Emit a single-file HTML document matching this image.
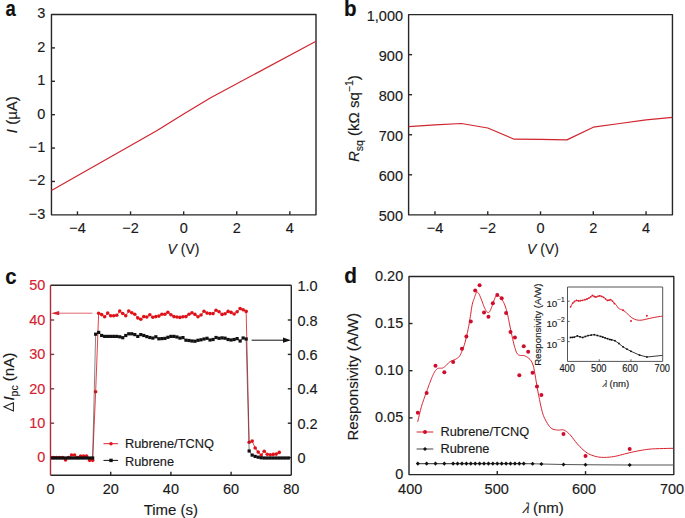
<!DOCTYPE html>
<html><head><meta charset="utf-8"><style>
html,body{margin:0;padding:0;background:#fff;}
body{width:685px;height:518px;overflow:hidden;}
svg{display:block;font-family:"Liberation Sans", sans-serif;}
text{stroke-width:0.15px;}
</style></head><body>
<svg width="685" height="518" viewBox="0 0 685 518">
<rect width="685" height="518" fill="#fff"/>
<rect x="51.46" y="14.50" width="264.54" height="200.35" fill="none" stroke="#262626" stroke-width="1.4" stroke-linejoin="round"/>
<line x1="51.46" y1="181.46" x2="54.96" y2="181.46" stroke="#262626" stroke-width="1.4" />
<line x1="51.46" y1="148.07" x2="54.96" y2="148.07" stroke="#262626" stroke-width="1.4" />
<line x1="51.46" y1="114.67" x2="54.96" y2="114.67" stroke="#262626" stroke-width="1.4" />
<line x1="51.46" y1="81.28" x2="54.96" y2="81.28" stroke="#262626" stroke-width="1.4" />
<line x1="51.46" y1="47.89" x2="54.96" y2="47.89" stroke="#262626" stroke-width="1.4" />
<line x1="77.46" y1="214.85" x2="77.46" y2="211.35" stroke="#262626" stroke-width="1.4" />
<line x1="130.56" y1="214.85" x2="130.56" y2="211.35" stroke="#262626" stroke-width="1.4" />
<line x1="183.66" y1="214.85" x2="183.66" y2="211.35" stroke="#262626" stroke-width="1.4" />
<line x1="236.76" y1="214.85" x2="236.76" y2="211.35" stroke="#262626" stroke-width="1.4" />
<line x1="289.86" y1="214.85" x2="289.86" y2="211.35" stroke="#262626" stroke-width="1.4" />
<text transform="translate(45.30,18.35) scale(1,1.03)" font-size="14.5" text-anchor="end" fill="#1a1a1a" stroke="#1a1a1a">3</text>
<text transform="translate(45.30,51.74) scale(1,1.03)" font-size="14.5" text-anchor="end" fill="#1a1a1a" stroke="#1a1a1a">2</text>
<text transform="translate(45.30,85.13) scale(1,1.03)" font-size="14.5" text-anchor="end" fill="#1a1a1a" stroke="#1a1a1a">1</text>
<text transform="translate(45.30,118.52) scale(1,1.03)" font-size="14.5" text-anchor="end" fill="#1a1a1a" stroke="#1a1a1a">0</text>
<text transform="translate(45.30,151.92) scale(1,1.03)" font-size="14.5" text-anchor="end" fill="#1a1a1a" stroke="#1a1a1a">−1</text>
<text transform="translate(45.30,185.31) scale(1,1.03)" font-size="14.5" text-anchor="end" fill="#1a1a1a" stroke="#1a1a1a">−2</text>
<text transform="translate(45.30,218.70) scale(1,1.03)" font-size="14.5" text-anchor="end" fill="#1a1a1a" stroke="#1a1a1a">−3</text>
<text transform="translate(77.46,232.60) scale(1,1.03)" font-size="14.5" text-anchor="middle" fill="#1a1a1a" stroke="#1a1a1a">−4</text>
<text transform="translate(130.56,232.60) scale(1,1.03)" font-size="14.5" text-anchor="middle" fill="#1a1a1a" stroke="#1a1a1a">−2</text>
<text transform="translate(183.66,232.60) scale(1,1.03)" font-size="14.5" text-anchor="middle" fill="#1a1a1a" stroke="#1a1a1a">0</text>
<text transform="translate(236.76,232.60) scale(1,1.03)" font-size="14.5" text-anchor="middle" fill="#1a1a1a" stroke="#1a1a1a">2</text>
<text transform="translate(289.86,232.60) scale(1,1.03)" font-size="14.5" text-anchor="middle" fill="#1a1a1a" stroke="#1a1a1a">4</text>
<text transform="translate(5.5,15.9) scale(0.88,1.08)" font-size="21" font-weight="bold" fill="#111" stroke="#111">a</text>
<text transform="translate(183.5,253.8) scale(0.93,1.0)" font-size="15" text-anchor="middle" fill="#1a1a1a" stroke="#1a1a1a"><tspan font-style="italic">V</tspan> (V)</text>
<text transform="translate(17.2,114.67) rotate(-90)" font-size="15" text-anchor="middle" fill="#1a1a1a" stroke="#1a1a1a"><tspan font-style="italic">I</tspan> (µA)</text>
<polyline points="51.46,190.50 157.11,130.50 183.66,114.00 210.21,98.00 316.00,41.20" fill="none" stroke="#d0252f" stroke-width="1.2" stroke-linejoin="round" />
<rect x="408.60" y="14.60" width="263.85" height="200.25" fill="none" stroke="#262626" stroke-width="1.4" stroke-linejoin="round"/>
<line x1="408.60" y1="174.80" x2="412.10" y2="174.80" stroke="#262626" stroke-width="1.4" />
<line x1="408.60" y1="134.75" x2="412.10" y2="134.75" stroke="#262626" stroke-width="1.4" />
<line x1="408.60" y1="94.70" x2="412.10" y2="94.70" stroke="#262626" stroke-width="1.4" />
<line x1="408.60" y1="54.65" x2="412.10" y2="54.65" stroke="#262626" stroke-width="1.4" />
<line x1="434.99" y1="214.85" x2="434.99" y2="211.35" stroke="#262626" stroke-width="1.4" />
<line x1="487.75" y1="214.85" x2="487.75" y2="211.35" stroke="#262626" stroke-width="1.4" />
<line x1="540.53" y1="214.85" x2="540.53" y2="211.35" stroke="#262626" stroke-width="1.4" />
<line x1="593.30" y1="214.85" x2="593.30" y2="211.35" stroke="#262626" stroke-width="1.4" />
<line x1="646.07" y1="214.85" x2="646.07" y2="211.35" stroke="#262626" stroke-width="1.4" />
<text transform="translate(403.00,20.50) scale(1,1.03)" font-size="14.5" text-anchor="end" fill="#1a1a1a" stroke="#1a1a1a">1,000</text>
<text transform="translate(403.00,60.55) scale(1,1.03)" font-size="14.5" text-anchor="end" fill="#1a1a1a" stroke="#1a1a1a">900</text>
<text transform="translate(403.00,100.60) scale(1,1.03)" font-size="14.5" text-anchor="end" fill="#1a1a1a" stroke="#1a1a1a">800</text>
<text transform="translate(403.00,140.65) scale(1,1.03)" font-size="14.5" text-anchor="end" fill="#1a1a1a" stroke="#1a1a1a">700</text>
<text transform="translate(403.00,180.70) scale(1,1.03)" font-size="14.5" text-anchor="end" fill="#1a1a1a" stroke="#1a1a1a">600</text>
<text transform="translate(403.00,220.75) scale(1,1.03)" font-size="14.5" text-anchor="end" fill="#1a1a1a" stroke="#1a1a1a">500</text>
<text transform="translate(434.99,232.60) scale(1,1.03)" font-size="14.5" text-anchor="middle" fill="#1a1a1a" stroke="#1a1a1a">−4</text>
<text transform="translate(487.75,232.60) scale(1,1.03)" font-size="14.5" text-anchor="middle" fill="#1a1a1a" stroke="#1a1a1a">−2</text>
<text transform="translate(540.53,232.60) scale(1,1.03)" font-size="14.5" text-anchor="middle" fill="#1a1a1a" stroke="#1a1a1a">0</text>
<text transform="translate(593.30,232.60) scale(1,1.03)" font-size="14.5" text-anchor="middle" fill="#1a1a1a" stroke="#1a1a1a">2</text>
<text transform="translate(646.07,232.60) scale(1,1.03)" font-size="14.5" text-anchor="middle" fill="#1a1a1a" stroke="#1a1a1a">4</text>
<text transform="translate(343.9,15.7) scale(0.98,1.05)" font-size="21" font-weight="bold" fill="#111" stroke="#111">b</text>
<text transform="translate(543.0,253.8) scale(0.93,1.0)" font-size="15" text-anchor="middle" fill="#1a1a1a" stroke="#1a1a1a"><tspan font-style="italic">V</tspan> (V)</text>
<text transform="translate(359,118.60) rotate(-90)" font-size="15" text-anchor="middle" fill="#1a1a1a" stroke="#1a1a1a"><tspan font-style="italic">R</tspan><tspan font-size="10.5" dy="3.5">sq</tspan><tspan dy="-3.5"> (kΩ sq</tspan><tspan font-size="10.5" dy="-6">−1</tspan><tspan dy="6">)</tspan></text>
<polyline points="408.60,126.60 434.99,124.90 461.37,123.50 487.75,128.00 514.14,139.20 540.53,139.30 566.91,139.90 593.30,127.20 619.68,123.50 646.07,119.80 672.45,117.40" fill="none" stroke="#d0252f" stroke-width="1.2" stroke-linejoin="round" />
<line x1="50.50" y1="285.30" x2="291.30" y2="285.30" stroke="#262626" stroke-width="1.4" />
<line x1="291.30" y1="285.30" x2="291.30" y2="475.20" stroke="#262626" stroke-width="1.4" />
<line x1="50.50" y1="475.20" x2="291.30" y2="475.20" stroke="#262626" stroke-width="1.4" />
<line x1="50.50" y1="285.30" x2="50.50" y2="475.20" stroke="#ad2a39" stroke-width="1.4" />
<line x1="50.50" y1="457.60" x2="54.10" y2="457.60" stroke="#7a3a44" stroke-width="1.4" />
<line x1="50.50" y1="423.20" x2="54.10" y2="423.20" stroke="#7a3a44" stroke-width="1.4" />
<line x1="50.50" y1="388.80" x2="54.10" y2="388.80" stroke="#7a3a44" stroke-width="1.4" />
<line x1="50.50" y1="354.40" x2="54.10" y2="354.40" stroke="#7a3a44" stroke-width="1.4" />
<line x1="50.50" y1="320.00" x2="54.10" y2="320.00" stroke="#7a3a44" stroke-width="1.4" />
<line x1="291.30" y1="457.60" x2="287.80" y2="457.60" stroke="#262626" stroke-width="1.4" />
<line x1="291.30" y1="423.20" x2="287.80" y2="423.20" stroke="#262626" stroke-width="1.4" />
<line x1="291.30" y1="388.80" x2="287.80" y2="388.80" stroke="#262626" stroke-width="1.4" />
<line x1="291.30" y1="354.40" x2="287.80" y2="354.40" stroke="#262626" stroke-width="1.4" />
<line x1="291.30" y1="320.00" x2="287.80" y2="320.00" stroke="#262626" stroke-width="1.4" />
<line x1="110.70" y1="475.20" x2="110.70" y2="471.70" stroke="#262626" stroke-width="1.4" />
<line x1="170.90" y1="475.20" x2="170.90" y2="471.70" stroke="#262626" stroke-width="1.4" />
<line x1="231.10" y1="475.20" x2="231.10" y2="471.70" stroke="#262626" stroke-width="1.4" />
<text transform="translate(45.30,290.35) scale(1,1.03)" font-size="14.5" text-anchor="end" fill="#d42232" stroke="#d42232">50</text>
<text transform="translate(45.30,324.75) scale(1,1.03)" font-size="14.5" text-anchor="end" fill="#d42232" stroke="#d42232">40</text>
<text transform="translate(45.30,359.15) scale(1,1.03)" font-size="14.5" text-anchor="end" fill="#d42232" stroke="#d42232">30</text>
<text transform="translate(45.30,393.55) scale(1,1.03)" font-size="14.5" text-anchor="end" fill="#d42232" stroke="#d42232">20</text>
<text transform="translate(45.30,427.95) scale(1,1.03)" font-size="14.5" text-anchor="end" fill="#d42232" stroke="#d42232">10</text>
<text transform="translate(45.30,462.35) scale(1,1.03)" font-size="14.5" text-anchor="end" fill="#d42232" stroke="#d42232">0</text>
<text transform="translate(297.50,291.20) scale(1,1.03)" font-size="14.5" text-anchor="start" fill="#1a1a1a" stroke="#1a1a1a">1.0</text>
<text transform="translate(297.50,325.60) scale(1,1.03)" font-size="14.5" text-anchor="start" fill="#1a1a1a" stroke="#1a1a1a">0.8</text>
<text transform="translate(297.50,360.00) scale(1,1.03)" font-size="14.5" text-anchor="start" fill="#1a1a1a" stroke="#1a1a1a">0.6</text>
<text transform="translate(297.50,394.40) scale(1,1.03)" font-size="14.5" text-anchor="start" fill="#1a1a1a" stroke="#1a1a1a">0.4</text>
<text transform="translate(297.50,428.80) scale(1,1.03)" font-size="14.5" text-anchor="start" fill="#1a1a1a" stroke="#1a1a1a">0.2</text>
<text transform="translate(297.50,463.20) scale(1,1.03)" font-size="14.5" text-anchor="start" fill="#1a1a1a" stroke="#1a1a1a">0</text>
<text transform="translate(50.50,494.00) scale(1,1.03)" font-size="14.5" text-anchor="middle" fill="#1a1a1a" stroke="#1a1a1a">0</text>
<text transform="translate(110.70,494.00) scale(1,1.03)" font-size="14.5" text-anchor="middle" fill="#1a1a1a" stroke="#1a1a1a">20</text>
<text transform="translate(170.90,494.00) scale(1,1.03)" font-size="14.5" text-anchor="middle" fill="#1a1a1a" stroke="#1a1a1a">40</text>
<text transform="translate(231.10,494.00) scale(1,1.03)" font-size="14.5" text-anchor="middle" fill="#1a1a1a" stroke="#1a1a1a">60</text>
<text transform="translate(291.30,494.00) scale(1,1.03)" font-size="14.5" text-anchor="middle" fill="#1a1a1a" stroke="#1a1a1a">80</text>
<text transform="translate(5.2,283.6) scale(0.97,1.03)" font-size="21" font-weight="bold" fill="#111" stroke="#111">c</text>
<text x="170.90" y="514.50" font-size="15" text-anchor="middle" fill="#1a1a1a" stroke="#1a1a1a" >Time (s)</text>
<path d="M13.4,402.7 L4.0,406.85 L13.4,411.0 Z" fill="none" stroke="#1a1a1a" stroke-width="1.05" stroke-linejoin="miter"/>
<text transform="translate(14,400.6) rotate(-90)" font-size="15" text-anchor="start" fill="#1a1a1a" stroke="#1a1a1a"><tspan font-style="italic">I</tspan><tspan font-size="10.5" dy="3.5">pc</tspan><tspan dy="-3.5"> (nA)</tspan></text>
<defs><clipPath id="cc"><rect x="51.1" y="285" width="239.6" height="190"/></clipPath></defs><g clip-path="url(#cc)">
<polyline points="50.50,457.60 53.51,457.60 56.52,457.60 59.53,457.60 62.54,457.60 65.55,460.01 68.56,457.60 71.57,455.02 74.58,455.02 77.59,457.60 80.60,455.98 83.61,455.98 86.62,455.98 89.63,460.35 92.64,460.35 95.65,391.80 98.66,313.30 101.67,314.60 104.68,316.80 107.69,313.10 110.70,315.70 113.71,315.70 116.72,315.30 119.73,311.10 122.74,313.50 125.75,315.70 128.76,311.10 131.77,312.80 134.78,314.20 137.79,317.90 140.80,319.20 143.81,316.60 146.82,317.00 149.83,314.80 152.84,317.20 155.85,316.60 158.86,316.10 161.87,314.20 164.88,314.20 167.89,312.20 170.90,314.80 173.91,316.60 176.92,317.00 179.93,317.40 182.94,316.80 185.95,316.60 188.96,314.20 191.97,312.80 194.98,314.40 197.99,316.80 201.00,315.00 204.01,311.20 207.02,313.10 210.03,313.60 213.04,313.60 216.05,310.30 219.06,311.80 222.07,314.40 225.08,313.80 228.09,311.40 231.10,312.40 234.11,314.00 237.12,311.80 240.13,308.60 243.14,309.80 246.15,311.40 249.16,442.20 252.17,441.10 255.18,448.00 258.19,452.10 261.20,455.10 264.21,451.30 267.22,454.20 270.23,454.80 273.24,454.40 276.25,454.10 279.26,452.40" fill="none" stroke="#df121a" stroke-width="0.8" stroke-linejoin="round" />
<circle cx="50.50" cy="457.60" r="1.8" fill="#df121a"/>
<circle cx="53.51" cy="457.60" r="1.8" fill="#df121a"/>
<circle cx="56.52" cy="457.60" r="1.8" fill="#df121a"/>
<circle cx="59.53" cy="457.60" r="1.8" fill="#df121a"/>
<circle cx="62.54" cy="457.60" r="1.8" fill="#df121a"/>
<circle cx="65.55" cy="460.01" r="1.8" fill="#df121a"/>
<circle cx="68.56" cy="457.60" r="1.8" fill="#df121a"/>
<circle cx="71.57" cy="455.02" r="1.8" fill="#df121a"/>
<circle cx="74.58" cy="455.02" r="1.8" fill="#df121a"/>
<circle cx="77.59" cy="457.60" r="1.8" fill="#df121a"/>
<circle cx="80.60" cy="455.98" r="1.8" fill="#df121a"/>
<circle cx="83.61" cy="455.98" r="1.8" fill="#df121a"/>
<circle cx="86.62" cy="455.98" r="1.8" fill="#df121a"/>
<circle cx="89.63" cy="460.35" r="1.8" fill="#df121a"/>
<circle cx="92.64" cy="460.35" r="1.8" fill="#df121a"/>
<circle cx="95.65" cy="391.80" r="1.8" fill="#df121a"/>
<circle cx="98.66" cy="313.30" r="1.8" fill="#df121a"/>
<circle cx="101.67" cy="314.60" r="1.8" fill="#df121a"/>
<circle cx="104.68" cy="316.80" r="1.8" fill="#df121a"/>
<circle cx="107.69" cy="313.10" r="1.8" fill="#df121a"/>
<circle cx="110.70" cy="315.70" r="1.8" fill="#df121a"/>
<circle cx="113.71" cy="315.70" r="1.8" fill="#df121a"/>
<circle cx="116.72" cy="315.30" r="1.8" fill="#df121a"/>
<circle cx="119.73" cy="311.10" r="1.8" fill="#df121a"/>
<circle cx="122.74" cy="313.50" r="1.8" fill="#df121a"/>
<circle cx="125.75" cy="315.70" r="1.8" fill="#df121a"/>
<circle cx="128.76" cy="311.10" r="1.8" fill="#df121a"/>
<circle cx="131.77" cy="312.80" r="1.8" fill="#df121a"/>
<circle cx="134.78" cy="314.20" r="1.8" fill="#df121a"/>
<circle cx="137.79" cy="317.90" r="1.8" fill="#df121a"/>
<circle cx="140.80" cy="319.20" r="1.8" fill="#df121a"/>
<circle cx="143.81" cy="316.60" r="1.8" fill="#df121a"/>
<circle cx="146.82" cy="317.00" r="1.8" fill="#df121a"/>
<circle cx="149.83" cy="314.80" r="1.8" fill="#df121a"/>
<circle cx="152.84" cy="317.20" r="1.8" fill="#df121a"/>
<circle cx="155.85" cy="316.60" r="1.8" fill="#df121a"/>
<circle cx="158.86" cy="316.10" r="1.8" fill="#df121a"/>
<circle cx="161.87" cy="314.20" r="1.8" fill="#df121a"/>
<circle cx="164.88" cy="314.20" r="1.8" fill="#df121a"/>
<circle cx="167.89" cy="312.20" r="1.8" fill="#df121a"/>
<circle cx="170.90" cy="314.80" r="1.8" fill="#df121a"/>
<circle cx="173.91" cy="316.60" r="1.8" fill="#df121a"/>
<circle cx="176.92" cy="317.00" r="1.8" fill="#df121a"/>
<circle cx="179.93" cy="317.40" r="1.8" fill="#df121a"/>
<circle cx="182.94" cy="316.80" r="1.8" fill="#df121a"/>
<circle cx="185.95" cy="316.60" r="1.8" fill="#df121a"/>
<circle cx="188.96" cy="314.20" r="1.8" fill="#df121a"/>
<circle cx="191.97" cy="312.80" r="1.8" fill="#df121a"/>
<circle cx="194.98" cy="314.40" r="1.8" fill="#df121a"/>
<circle cx="197.99" cy="316.80" r="1.8" fill="#df121a"/>
<circle cx="201.00" cy="315.00" r="1.8" fill="#df121a"/>
<circle cx="204.01" cy="311.20" r="1.8" fill="#df121a"/>
<circle cx="207.02" cy="313.10" r="1.8" fill="#df121a"/>
<circle cx="210.03" cy="313.60" r="1.8" fill="#df121a"/>
<circle cx="213.04" cy="313.60" r="1.8" fill="#df121a"/>
<circle cx="216.05" cy="310.30" r="1.8" fill="#df121a"/>
<circle cx="219.06" cy="311.80" r="1.8" fill="#df121a"/>
<circle cx="222.07" cy="314.40" r="1.8" fill="#df121a"/>
<circle cx="225.08" cy="313.80" r="1.8" fill="#df121a"/>
<circle cx="228.09" cy="311.40" r="1.8" fill="#df121a"/>
<circle cx="231.10" cy="312.40" r="1.8" fill="#df121a"/>
<circle cx="234.11" cy="314.00" r="1.8" fill="#df121a"/>
<circle cx="237.12" cy="311.80" r="1.8" fill="#df121a"/>
<circle cx="240.13" cy="308.60" r="1.8" fill="#df121a"/>
<circle cx="243.14" cy="309.80" r="1.8" fill="#df121a"/>
<circle cx="246.15" cy="311.40" r="1.8" fill="#df121a"/>
<circle cx="249.16" cy="442.20" r="1.8" fill="#df121a"/>
<circle cx="252.17" cy="441.10" r="1.8" fill="#df121a"/>
<circle cx="255.18" cy="448.00" r="1.8" fill="#df121a"/>
<circle cx="258.19" cy="452.10" r="1.8" fill="#df121a"/>
<circle cx="261.20" cy="455.10" r="1.8" fill="#df121a"/>
<circle cx="264.21" cy="451.30" r="1.8" fill="#df121a"/>
<circle cx="267.22" cy="454.20" r="1.8" fill="#df121a"/>
<circle cx="270.23" cy="454.80" r="1.8" fill="#df121a"/>
<circle cx="273.24" cy="454.40" r="1.8" fill="#df121a"/>
<circle cx="276.25" cy="454.10" r="1.8" fill="#df121a"/>
<circle cx="279.26" cy="452.40" r="1.8" fill="#df121a"/>
<polyline points="50.50,458.00 53.51,458.00 56.52,458.00 59.53,458.00 62.54,458.00 65.55,458.00 68.56,458.00 71.57,458.00 74.58,458.00 77.59,458.00 80.60,458.00 83.61,458.00 86.62,458.00 89.63,458.00 92.64,458.00 95.65,334.20 98.66,332.40 101.67,335.50 104.68,336.40 107.69,336.40 110.70,336.40 113.71,336.40 116.72,336.40 119.73,336.80 122.74,337.70 125.75,335.50 128.76,333.80 131.77,333.80 134.78,334.60 137.79,336.40 140.80,334.60 143.81,335.50 146.82,336.60 149.83,337.50 152.84,338.10 155.85,336.80 158.86,338.80 161.87,338.60 164.88,338.40 167.89,337.30 170.90,336.40 173.91,336.40 176.92,337.00 179.93,338.10 182.94,337.60 185.95,340.20 188.96,340.50 191.97,341.00 194.98,341.20 197.99,340.30 201.00,339.80 204.01,339.00 207.02,338.30 210.03,340.00 213.04,339.50 216.05,337.50 219.06,338.30 222.07,337.90 225.08,338.20 228.09,339.50 231.10,340.00 234.11,339.50 237.12,338.60 240.13,341.00 243.14,338.00 246.15,339.00 249.16,451.00 252.17,455.10 255.18,456.40 258.19,457.20 261.20,457.80 264.21,458.00 267.22,458.00 270.23,458.00 273.24,458.00 276.25,458.00 279.26,458.00 282.27,458.00 285.28,458.00 288.29,458.00" fill="none" stroke="#333" stroke-width="0.6" stroke-linejoin="round" />
<rect x="48.90" y="456.40" width="3.2" height="3.2" fill="#111"/>
<rect x="51.91" y="456.40" width="3.2" height="3.2" fill="#111"/>
<rect x="54.92" y="456.40" width="3.2" height="3.2" fill="#111"/>
<rect x="57.93" y="456.40" width="3.2" height="3.2" fill="#111"/>
<rect x="60.94" y="456.40" width="3.2" height="3.2" fill="#111"/>
<rect x="63.95" y="456.40" width="3.2" height="3.2" fill="#111"/>
<rect x="66.96" y="456.40" width="3.2" height="3.2" fill="#111"/>
<rect x="69.97" y="456.40" width="3.2" height="3.2" fill="#111"/>
<rect x="72.98" y="456.40" width="3.2" height="3.2" fill="#111"/>
<rect x="75.99" y="456.40" width="3.2" height="3.2" fill="#111"/>
<rect x="79.00" y="456.40" width="3.2" height="3.2" fill="#111"/>
<rect x="82.01" y="456.40" width="3.2" height="3.2" fill="#111"/>
<rect x="85.02" y="456.40" width="3.2" height="3.2" fill="#111"/>
<rect x="88.03" y="456.40" width="3.2" height="3.2" fill="#111"/>
<rect x="91.04" y="456.40" width="3.2" height="3.2" fill="#111"/>
<rect x="94.05" y="332.60" width="3.2" height="3.2" fill="#111"/>
<rect x="97.06" y="330.80" width="3.2" height="3.2" fill="#111"/>
<rect x="100.07" y="333.90" width="3.2" height="3.2" fill="#111"/>
<rect x="103.08" y="334.80" width="3.2" height="3.2" fill="#111"/>
<rect x="106.09" y="334.80" width="3.2" height="3.2" fill="#111"/>
<rect x="109.10" y="334.80" width="3.2" height="3.2" fill="#111"/>
<rect x="112.11" y="334.80" width="3.2" height="3.2" fill="#111"/>
<rect x="115.12" y="334.80" width="3.2" height="3.2" fill="#111"/>
<rect x="118.13" y="335.20" width="3.2" height="3.2" fill="#111"/>
<rect x="121.14" y="336.10" width="3.2" height="3.2" fill="#111"/>
<rect x="124.15" y="333.90" width="3.2" height="3.2" fill="#111"/>
<rect x="127.16" y="332.20" width="3.2" height="3.2" fill="#111"/>
<rect x="130.17" y="332.20" width="3.2" height="3.2" fill="#111"/>
<rect x="133.18" y="333.00" width="3.2" height="3.2" fill="#111"/>
<rect x="136.19" y="334.80" width="3.2" height="3.2" fill="#111"/>
<rect x="139.20" y="333.00" width="3.2" height="3.2" fill="#111"/>
<rect x="142.21" y="333.90" width="3.2" height="3.2" fill="#111"/>
<rect x="145.22" y="335.00" width="3.2" height="3.2" fill="#111"/>
<rect x="148.23" y="335.90" width="3.2" height="3.2" fill="#111"/>
<rect x="151.24" y="336.50" width="3.2" height="3.2" fill="#111"/>
<rect x="154.25" y="335.20" width="3.2" height="3.2" fill="#111"/>
<rect x="157.26" y="337.20" width="3.2" height="3.2" fill="#111"/>
<rect x="160.27" y="337.00" width="3.2" height="3.2" fill="#111"/>
<rect x="163.28" y="336.80" width="3.2" height="3.2" fill="#111"/>
<rect x="166.29" y="335.70" width="3.2" height="3.2" fill="#111"/>
<rect x="169.30" y="334.80" width="3.2" height="3.2" fill="#111"/>
<rect x="172.31" y="334.80" width="3.2" height="3.2" fill="#111"/>
<rect x="175.32" y="335.40" width="3.2" height="3.2" fill="#111"/>
<rect x="178.33" y="336.50" width="3.2" height="3.2" fill="#111"/>
<rect x="181.34" y="336.00" width="3.2" height="3.2" fill="#111"/>
<rect x="184.35" y="338.60" width="3.2" height="3.2" fill="#111"/>
<rect x="187.36" y="338.90" width="3.2" height="3.2" fill="#111"/>
<rect x="190.37" y="339.40" width="3.2" height="3.2" fill="#111"/>
<rect x="193.38" y="339.60" width="3.2" height="3.2" fill="#111"/>
<rect x="196.39" y="338.70" width="3.2" height="3.2" fill="#111"/>
<rect x="199.40" y="338.20" width="3.2" height="3.2" fill="#111"/>
<rect x="202.41" y="337.40" width="3.2" height="3.2" fill="#111"/>
<rect x="205.42" y="336.70" width="3.2" height="3.2" fill="#111"/>
<rect x="208.43" y="338.40" width="3.2" height="3.2" fill="#111"/>
<rect x="211.44" y="337.90" width="3.2" height="3.2" fill="#111"/>
<rect x="214.45" y="335.90" width="3.2" height="3.2" fill="#111"/>
<rect x="217.46" y="336.70" width="3.2" height="3.2" fill="#111"/>
<rect x="220.47" y="336.30" width="3.2" height="3.2" fill="#111"/>
<rect x="223.48" y="336.60" width="3.2" height="3.2" fill="#111"/>
<rect x="226.49" y="337.90" width="3.2" height="3.2" fill="#111"/>
<rect x="229.50" y="338.40" width="3.2" height="3.2" fill="#111"/>
<rect x="232.51" y="337.90" width="3.2" height="3.2" fill="#111"/>
<rect x="235.52" y="337.00" width="3.2" height="3.2" fill="#111"/>
<rect x="238.53" y="339.40" width="3.2" height="3.2" fill="#111"/>
<rect x="241.54" y="336.40" width="3.2" height="3.2" fill="#111"/>
<rect x="244.55" y="337.40" width="3.2" height="3.2" fill="#111"/>
<rect x="247.56" y="449.40" width="3.2" height="3.2" fill="#111"/>
<rect x="250.57" y="453.50" width="3.2" height="3.2" fill="#111"/>
<rect x="253.58" y="454.80" width="3.2" height="3.2" fill="#111"/>
<rect x="256.59" y="455.60" width="3.2" height="3.2" fill="#111"/>
<rect x="259.60" y="456.20" width="3.2" height="3.2" fill="#111"/>
<rect x="262.61" y="456.40" width="3.2" height="3.2" fill="#111"/>
<rect x="265.62" y="456.40" width="3.2" height="3.2" fill="#111"/>
<rect x="268.63" y="456.40" width="3.2" height="3.2" fill="#111"/>
<rect x="271.64" y="456.40" width="3.2" height="3.2" fill="#111"/>
<rect x="274.65" y="456.40" width="3.2" height="3.2" fill="#111"/>
<rect x="277.66" y="456.40" width="3.2" height="3.2" fill="#111"/>
<rect x="280.67" y="456.40" width="3.2" height="3.2" fill="#111"/>
<rect x="283.68" y="456.40" width="3.2" height="3.2" fill="#111"/>
<rect x="286.69" y="456.40" width="3.2" height="3.2" fill="#111"/>
</g>
<line x1="58.50" y1="313.20" x2="92.40" y2="313.20" stroke="#e06870" stroke-width="1.0" />
<path d="M51.2,313.2 L59.2,311.1 L59.2,315.3 Z" fill="#d8202e"/>
<line x1="251.60" y1="340.20" x2="283.50" y2="340.20" stroke="#111" stroke-width="1.0" />
<path d="M291,340.2 L283,337.6 L283,342.8 Z" fill="#111"/>
<line x1="103.50" y1="443.70" x2="118.10" y2="443.70" stroke="#d8202e" stroke-width="1.0" />
<circle cx="111" cy="443.7" r="1.7" fill="#df121a"/>
<text x="125.00" y="448.20" font-size="12.8" text-anchor="start" fill="#1a1a1a" stroke="#1a1a1a" >Rubrene/TCNQ</text>
<line x1="103.50" y1="460.40" x2="118.10" y2="460.40" stroke="#111" stroke-width="1.0" />
<rect x="109.3" y="458.7" width="3.4" height="3.4" fill="#111"/>
<text x="125.00" y="465.70" font-size="12.8" text-anchor="start" fill="#1a1a1a" stroke="#1a1a1a" >Rubrene</text>
<rect x="409.00" y="276.50" width="264.80" height="198.10" fill="none" stroke="#262626" stroke-width="1.4" stroke-linejoin="round"/>
<line x1="409.00" y1="417.90" x2="412.50" y2="417.90" stroke="#262626" stroke-width="1.4" />
<line x1="409.00" y1="370.70" x2="412.50" y2="370.70" stroke="#262626" stroke-width="1.4" />
<line x1="409.00" y1="323.50" x2="412.50" y2="323.50" stroke="#262626" stroke-width="1.4" />
<line x1="497.27" y1="474.60" x2="497.27" y2="471.10" stroke="#262626" stroke-width="1.4" />
<line x1="585.53" y1="474.60" x2="585.53" y2="471.10" stroke="#262626" stroke-width="1.4" />
<text transform="translate(403.20,280.60) scale(1,1.03)" font-size="14.5" text-anchor="end" fill="#1a1a1a" stroke="#1a1a1a">0.20</text>
<text transform="translate(403.20,327.80) scale(1,1.03)" font-size="14.5" text-anchor="end" fill="#1a1a1a" stroke="#1a1a1a">0.15</text>
<text transform="translate(403.20,375.00) scale(1,1.03)" font-size="14.5" text-anchor="end" fill="#1a1a1a" stroke="#1a1a1a">0.10</text>
<text transform="translate(403.20,422.20) scale(1,1.03)" font-size="14.5" text-anchor="end" fill="#1a1a1a" stroke="#1a1a1a">0.05</text>
<text transform="translate(403.20,479.20) scale(1,1.03)" font-size="14.5" text-anchor="end" fill="#1a1a1a" stroke="#1a1a1a">0</text>
<text transform="translate(410.20,494.00) scale(1,1.03)" font-size="14.5" text-anchor="middle" fill="#1a1a1a" stroke="#1a1a1a">400</text>
<text transform="translate(496.70,494.00) scale(1,1.03)" font-size="14.5" text-anchor="middle" fill="#1a1a1a" stroke="#1a1a1a">500</text>
<text transform="translate(584.00,494.00) scale(1,1.03)" font-size="14.5" text-anchor="middle" fill="#1a1a1a" stroke="#1a1a1a">600</text>
<text transform="translate(672.00,494.00) scale(1,1.03)" font-size="14.5" text-anchor="middle" fill="#1a1a1a" stroke="#1a1a1a">700</text>
<text transform="translate(344.3,283.4) scale(0.99,1.06)" font-size="21" font-weight="bold" fill="#111" stroke="#111">d</text>
<text transform="translate(522.5,513) skewX(-14)" font-size="15" fill="#1a1a1a" stroke="#1a1a1a" font-family="Liberation Serif" font-style="italic">λ</text>
<text x="533.0" y="513" font-size="15" fill="#1a1a1a" stroke="#1a1a1a">(nm)</text>
<text transform="translate(358.3,376.80) rotate(-90)" font-size="15" text-anchor="middle" fill="#1a1a1a" stroke="#1a1a1a">Responsivity (A/W)</text>
<polyline points="417.70,421.90 417.88,421.10 418.13,420.01 418.42,418.71 418.74,417.29 419.07,415.86 419.40,414.50 419.72,413.19 420.05,411.86 420.39,410.50 420.74,409.13 421.11,407.76 421.50,406.40 421.92,405.03 422.36,403.64 422.81,402.26 423.28,400.88 423.74,399.52 424.20,398.20 424.65,396.92 425.10,395.67 425.55,394.45 426.00,393.24 426.45,392.02 426.90,390.80 427.35,389.56 427.80,388.31 428.25,387.06 428.70,385.82 429.15,384.60 429.60,383.40 430.05,382.22 430.50,381.04 430.95,379.87 431.40,378.74 431.85,377.65 432.30,376.60 432.75,375.59 433.20,374.60 433.65,373.64 434.10,372.75 434.55,371.93 435.00,371.20 435.45,370.57 435.90,370.01 436.35,369.53 436.80,369.12 437.25,368.78 437.70,368.50 438.15,368.31 438.60,368.23 439.05,368.21 439.50,368.22 439.95,368.23 440.40,368.20 440.84,368.17 441.27,368.16 441.71,368.15 442.15,368.11 442.61,368.00 443.10,367.80 443.63,367.49 444.19,367.09 444.76,366.63 445.35,366.13 445.93,365.61 446.50,365.10 447.02,364.58 447.51,364.02 447.99,363.45 448.50,362.88 449.09,362.32 449.80,361.80 450.67,361.31 451.69,360.85 452.79,360.41 453.89,359.97 454.91,359.54 455.80,359.10 456.54,358.69 457.19,358.32 457.76,357.96 458.29,357.56 458.80,357.08 459.30,356.50 459.79,355.80 460.23,355.03 460.66,354.18 461.07,353.26 461.48,352.30 461.90,351.30 462.33,350.28 462.77,349.23 463.20,348.12 463.63,346.95 464.07,345.68 464.50,344.30 464.94,342.74 465.40,341.02 465.85,339.21 466.29,337.37 466.71,335.57 467.10,333.90 467.45,332.37 467.76,330.94 468.06,329.55 468.34,328.16 468.62,326.73 468.90,325.20 469.19,323.57 469.47,321.86 469.76,320.11 470.04,318.34 470.32,316.56 470.60,314.80 470.88,313.01 471.15,311.17 471.42,309.33 471.70,307.53 471.99,305.84 472.30,304.30 472.64,302.93 473.01,301.67 473.40,300.53 473.79,299.46 474.16,298.46 474.50,297.50 474.81,296.57 475.11,295.69 475.39,294.86 475.66,294.13 475.93,293.50 476.20,293.00 476.47,292.63 476.73,292.39 476.99,292.24 477.26,292.20 477.52,292.26 477.80,292.40 478.08,292.64 478.37,292.97 478.66,293.41 478.96,293.93 479.27,294.53 479.60,295.20 479.95,295.97 480.32,296.84 480.70,297.79 481.09,298.80 481.49,299.85 481.90,300.90 482.32,302.01 482.75,303.21 483.19,304.45 483.63,305.66 484.07,306.80 484.50,307.80 484.93,308.69 485.36,309.51 485.79,310.25 486.21,310.90 486.61,311.46 487.00,311.90 487.36,312.23 487.71,312.47 488.04,312.60 488.37,312.63 488.68,312.57 489.00,312.40 489.31,312.13 489.60,311.74 489.88,311.26 490.17,310.69 490.47,310.03 490.80,309.30 491.15,308.46 491.53,307.49 491.92,306.44 492.31,305.35 492.71,304.26 493.10,303.20 493.48,302.12 493.86,300.98 494.24,299.84 494.63,298.75 495.01,297.79 495.40,297.00 495.80,296.39 496.20,295.91 496.60,295.54 497.00,295.29 497.40,295.15 497.80,295.10 498.18,295.17 498.54,295.35 498.91,295.64 499.28,296.03 499.67,296.48 500.10,297.00 500.58,297.60 501.10,298.30 501.65,299.08 502.20,299.91 502.72,300.76 503.20,301.60 503.63,302.42 504.03,303.23 504.40,304.06 504.76,304.94 505.13,305.91 505.50,307.00 505.88,308.19 506.26,309.46 506.64,310.81 507.02,312.26 507.41,313.82 507.80,315.50 508.21,317.38 508.63,319.44 509.05,321.62 509.47,323.83 509.89,325.99 510.30,328.00 510.70,329.88 511.09,331.70 511.47,333.47 511.85,335.19 512.22,336.86 512.60,338.50 512.97,340.12 513.34,341.72 513.70,343.28 514.06,344.78 514.43,346.19 514.80,347.50 515.17,348.72 515.54,349.87 515.91,350.94 516.29,351.91 516.68,352.77 517.10,353.50 517.53,354.07 517.96,354.49 518.40,354.80 518.88,355.03 519.41,355.22 520.00,355.40 520.67,355.52 521.41,355.53 522.20,355.49 523.02,355.49 523.86,355.57 524.70,355.80 525.58,356.19 526.51,356.69 527.46,357.28 528.38,357.93 529.24,358.65 530.00,359.40 530.65,360.19 531.21,361.02 531.72,361.91 532.17,362.87 532.60,363.89 533.00,365.00 533.36,366.16 533.67,367.36 533.95,368.62 534.21,370.00 534.49,371.51 534.80,373.20 535.14,375.11 535.49,377.23 535.86,379.49 536.23,381.82 536.61,384.15 537.00,386.40 537.40,388.62 537.82,390.87 538.24,393.12 538.67,395.33 539.09,397.47 539.50,399.50 539.89,401.43 540.26,403.27 540.63,405.05 541.00,406.76 541.39,408.41 541.80,410.00 542.20,411.50 542.57,412.89 542.96,414.21 543.40,415.53 543.94,416.87 544.60,418.30 545.42,419.90 546.36,421.64 547.39,423.43 548.49,425.12 549.60,426.62 550.70,427.80 551.81,428.63 552.97,429.19 554.15,429.55 555.33,429.78 556.49,429.94 557.60,430.10 558.66,430.17 559.69,430.07 560.70,429.91 561.70,429.78 562.69,429.78 563.70,430.00 564.69,430.41 565.64,430.93 566.59,431.58 567.57,432.37 568.63,433.34 569.80,434.50 571.10,435.96 572.51,437.71 573.99,439.64 575.50,441.62 577.02,443.51 578.50,445.20 579.95,446.72 581.40,448.17 582.85,449.55 584.30,450.83 585.75,451.98 587.20,453.00 588.65,453.86 590.10,454.58 591.55,455.18 593.00,455.69 594.45,456.12 595.90,456.50 597.33,456.82 598.73,457.07 600.13,457.24 601.56,457.34 603.04,457.40 604.60,457.40 606.22,457.36 607.87,457.27 609.57,457.12 611.34,456.92 613.21,456.65 615.20,456.30 617.36,455.84 619.70,455.27 622.13,454.63 624.58,453.97 626.96,453.35 629.20,452.80 631.28,452.33 633.27,451.89 635.19,451.47 637.09,451.09 638.98,450.74 640.90,450.40 642.75,450.09 644.47,449.80 646.19,449.54 648.03,449.30 650.13,449.09 652.60,448.90 655.77,448.74 659.60,448.61 663.68,448.51 667.60,448.42 670.94,448.35 673.30,448.30" fill="none" stroke="#d8202e" stroke-width="1.0" stroke-linejoin="round" />
<circle cx="417.83" cy="412.80" r="2.0" fill="#cf0c2c"/>
<circle cx="426.65" cy="393.10" r="2.0" fill="#cf0c2c"/>
<circle cx="435.48" cy="365.80" r="2.0" fill="#cf0c2c"/>
<circle cx="444.31" cy="372.20" r="2.0" fill="#cf0c2c"/>
<circle cx="453.13" cy="362.10" r="2.0" fill="#cf0c2c"/>
<circle cx="461.96" cy="348.70" r="2.0" fill="#cf0c2c"/>
<circle cx="466.37" cy="336.50" r="2.0" fill="#cf0c2c"/>
<circle cx="470.79" cy="321.40" r="2.0" fill="#cf0c2c"/>
<circle cx="475.20" cy="290.40" r="2.0" fill="#cf0c2c"/>
<circle cx="479.61" cy="285.20" r="2.0" fill="#cf0c2c"/>
<circle cx="484.03" cy="312.40" r="2.0" fill="#cf0c2c"/>
<circle cx="488.44" cy="316.80" r="2.0" fill="#cf0c2c"/>
<circle cx="492.85" cy="303.20" r="2.0" fill="#cf0c2c"/>
<circle cx="497.27" cy="295.10" r="2.0" fill="#cf0c2c"/>
<circle cx="501.68" cy="298.20" r="2.0" fill="#cf0c2c"/>
<circle cx="506.09" cy="312.90" r="2.0" fill="#cf0c2c"/>
<circle cx="510.51" cy="332.10" r="2.0" fill="#cf0c2c"/>
<circle cx="514.92" cy="337.50" r="2.0" fill="#cf0c2c"/>
<circle cx="519.33" cy="375.20" r="2.0" fill="#cf0c2c"/>
<circle cx="523.75" cy="346.30" r="2.0" fill="#cf0c2c"/>
<circle cx="528.16" cy="351.80" r="2.0" fill="#cf0c2c"/>
<circle cx="532.57" cy="372.70" r="2.0" fill="#cf0c2c"/>
<circle cx="536.99" cy="386.40" r="2.0" fill="#cf0c2c"/>
<circle cx="541.40" cy="395.10" r="2.0" fill="#cf0c2c"/>
<circle cx="563.47" cy="433.90" r="2.0" fill="#cf0c2c"/>
<circle cx="585.53" cy="456.00" r="2.0" fill="#cf0c2c"/>
<circle cx="629.67" cy="449.00" r="2.0" fill="#cf0c2c"/>
<polyline points="417.83,463.60 426.65,463.60 435.48,463.60 444.31,463.60 453.13,463.60 457.55,463.60 461.96,463.60 466.37,463.60 470.79,463.60 475.20,463.60 479.61,463.60 484.03,463.60 488.44,463.60 492.85,463.60 497.27,463.60 501.68,463.60 506.09,463.60 510.51,463.60 514.92,463.60 519.33,463.60 523.75,463.60 532.57,463.80 541.40,464.00 563.47,464.50 585.53,464.80 629.67,465.00 673.80,465.00" fill="none" stroke="#555" stroke-width="1.1" stroke-linejoin="round" />
<path d="M417.83,461.55 L419.83,463.60 L417.83,465.65 L415.83,463.60 Z" fill="#111"/>
<path d="M426.65,461.55 L428.65,463.60 L426.65,465.65 L424.65,463.60 Z" fill="#111"/>
<path d="M435.48,461.55 L437.48,463.60 L435.48,465.65 L433.48,463.60 Z" fill="#111"/>
<path d="M444.31,461.55 L446.31,463.60 L444.31,465.65 L442.31,463.60 Z" fill="#111"/>
<path d="M453.13,461.55 L455.13,463.60 L453.13,465.65 L451.13,463.60 Z" fill="#111"/>
<path d="M457.55,461.55 L459.55,463.60 L457.55,465.65 L455.55,463.60 Z" fill="#111"/>
<path d="M461.96,461.55 L463.96,463.60 L461.96,465.65 L459.96,463.60 Z" fill="#111"/>
<path d="M466.37,461.55 L468.37,463.60 L466.37,465.65 L464.37,463.60 Z" fill="#111"/>
<path d="M470.79,461.55 L472.79,463.60 L470.79,465.65 L468.79,463.60 Z" fill="#111"/>
<path d="M475.20,461.55 L477.20,463.60 L475.20,465.65 L473.20,463.60 Z" fill="#111"/>
<path d="M479.61,461.55 L481.61,463.60 L479.61,465.65 L477.61,463.60 Z" fill="#111"/>
<path d="M484.03,461.55 L486.03,463.60 L484.03,465.65 L482.03,463.60 Z" fill="#111"/>
<path d="M488.44,461.55 L490.44,463.60 L488.44,465.65 L486.44,463.60 Z" fill="#111"/>
<path d="M492.85,461.55 L494.85,463.60 L492.85,465.65 L490.85,463.60 Z" fill="#111"/>
<path d="M497.27,461.55 L499.27,463.60 L497.27,465.65 L495.27,463.60 Z" fill="#111"/>
<path d="M501.68,461.55 L503.68,463.60 L501.68,465.65 L499.68,463.60 Z" fill="#111"/>
<path d="M506.09,461.55 L508.09,463.60 L506.09,465.65 L504.09,463.60 Z" fill="#111"/>
<path d="M510.51,461.55 L512.51,463.60 L510.51,465.65 L508.51,463.60 Z" fill="#111"/>
<path d="M514.92,461.55 L516.92,463.60 L514.92,465.65 L512.92,463.60 Z" fill="#111"/>
<path d="M519.33,461.55 L521.33,463.60 L519.33,465.65 L517.33,463.60 Z" fill="#111"/>
<path d="M523.75,461.55 L525.75,463.60 L523.75,465.65 L521.75,463.60 Z" fill="#111"/>
<path d="M532.57,461.75 L534.57,463.80 L532.57,465.85 L530.57,463.80 Z" fill="#111"/>
<path d="M541.40,461.95 L543.40,464.00 L541.40,466.05 L539.40,464.00 Z" fill="#111"/>
<path d="M563.47,462.45 L565.47,464.50 L563.47,466.55 L561.47,464.50 Z" fill="#111"/>
<path d="M585.53,462.75 L587.53,464.80 L585.53,466.85 L583.53,464.80 Z" fill="#111"/>
<path d="M629.67,462.95 L631.67,465.00 L629.67,467.05 L627.67,465.00 Z" fill="#111"/>
<line x1="416.60" y1="432.00" x2="433.30" y2="432.00" stroke="#d8202e" stroke-width="1.0" />
<circle cx="425" cy="432" r="2.0" fill="#cf0c2c"/>
<text x="440.40" y="436.20" font-size="12.8" text-anchor="start" fill="#1a1a1a" stroke="#1a1a1a" >Rubrene/TCNQ</text>
<line x1="416.60" y1="449.00" x2="433.30" y2="449.00" stroke="#555" stroke-width="1.1" />
<path d="M425.00,446.95 L427.00,449.00 L425.00,451.05 L423.00,449.00 Z" fill="#111"/>
<text x="440.40" y="453.30" font-size="12.8" text-anchor="start" fill="#1a1a1a" stroke="#1a1a1a" >Rubrene</text>
<rect x="567.50" y="287.00" width="95.20" height="74.40" fill="none" stroke="#555" stroke-width="1.0" stroke-linejoin="round"/>
<line x1="567.50" y1="301.20" x2="569.70" y2="301.20" stroke="#555" stroke-width="0.9" />
<line x1="567.50" y1="321.40" x2="569.70" y2="321.40" stroke="#555" stroke-width="0.9" />
<line x1="567.50" y1="341.60" x2="569.70" y2="341.60" stroke="#555" stroke-width="0.9" />
<line x1="599.23" y1="361.40" x2="599.23" y2="359.20" stroke="#555" stroke-width="0.9" />
<line x1="630.97" y1="361.40" x2="630.97" y2="359.20" stroke="#555" stroke-width="0.9" />
<text x="557.3" y="307.20" font-size="9.8" text-anchor="end" fill="#1a1a1a" stroke="#1a1a1a">10</text>
<text x="557.2" y="301.70" font-size="6.6" text-anchor="start" fill="#1a1a1a" stroke="#1a1a1a">−1</text>
<text x="557.3" y="327.40" font-size="9.8" text-anchor="end" fill="#1a1a1a" stroke="#1a1a1a">10</text>
<text x="557.2" y="321.90" font-size="6.6" text-anchor="start" fill="#1a1a1a" stroke="#1a1a1a">−2</text>
<text x="557.3" y="347.60" font-size="9.8" text-anchor="end" fill="#1a1a1a" stroke="#1a1a1a">10</text>
<text x="557.2" y="342.10" font-size="6.6" text-anchor="start" fill="#1a1a1a" stroke="#1a1a1a">−3</text>
<text transform="translate(567.20,372.40) scale(1,1.08)" font-size="9.3" text-anchor="middle" fill="#1a1a1a" stroke="#1a1a1a">400</text>
<text transform="translate(598.80,372.40) scale(1,1.08)" font-size="9.3" text-anchor="middle" fill="#1a1a1a" stroke="#1a1a1a">500</text>
<text transform="translate(630.10,372.40) scale(1,1.08)" font-size="9.3" text-anchor="middle" fill="#1a1a1a" stroke="#1a1a1a">600</text>
<text transform="translate(662.30,372.40) scale(1,1.08)" font-size="9.3" text-anchor="middle" fill="#1a1a1a" stroke="#1a1a1a">700</text>
<text transform="translate(602.6,387) skewX(-16)" font-size="9.6" fill="#1a1a1a" stroke="#1a1a1a" font-family="Liberation Serif" font-style="italic">λ</text>
<text x="609.6" y="387" font-size="9.6" fill="#1a1a1a" stroke="#1a1a1a">(nm)</text>
<text transform="translate(540.6,324.70) rotate(-90)" font-size="9.7" text-anchor="middle" fill="#1a1a1a" stroke="#1a1a1a">Responsivity (A/W)</text>
<polyline points="570.60,306.80 571.16,305.80 571.94,304.39 572.70,303.20 573.31,302.47 573.89,301.95 574.50,301.50 575.19,301.03 575.90,300.63 576.60,300.40 577.25,300.47 577.87,300.73 578.50,300.90 579.13,300.89 579.75,300.81 580.40,300.70 581.07,300.59 581.76,300.46 582.50,300.30 583.32,300.12 584.19,299.91 585.00,299.70 585.71,299.48 586.36,299.25 587.00,299.00 587.64,298.73 588.28,298.44 588.90,298.10 589.51,297.70 590.10,297.25 590.70,296.80 591.30,296.28 591.91,295.76 592.50,295.50 593.07,295.68 593.64,296.12 594.20,296.50 594.76,296.75 595.32,296.94 595.90,297.00 596.52,296.85 597.16,296.56 597.80,296.30 598.43,296.08 599.07,295.88 599.70,295.80 600.33,295.91 600.96,296.14 601.60,296.40 602.26,296.66 602.94,296.94 603.60,297.30 604.24,297.75 604.87,298.27 605.50,298.80 606.14,299.39 606.79,300.00 607.40,300.40 607.96,300.48 608.49,300.36 609.00,300.20 609.49,299.98 609.97,299.73 610.50,299.70 611.13,300.02 611.82,300.57 612.50,301.20 613.16,301.96 613.81,302.81 614.40,303.50 614.83,303.77 615.20,303.88 615.70,304.30 616.45,305.37 617.34,306.76 618.20,307.90 618.97,308.54 619.72,308.94 620.50,309.30 621.32,309.61 622.17,309.87 623.10,310.30 624.09,310.94 625.16,311.76 626.40,312.80 627.91,314.26 629.61,315.95 631.30,317.40 632.93,318.44 634.57,319.23 636.20,319.80 637.80,320.14 639.40,320.26 641.10,320.20 642.91,319.93 644.81,319.49 646.90,319.00 649.22,318.49 651.71,317.93 654.30,317.40 657.28,316.90 660.34,316.43 662.50,316.10" fill="none" stroke="#d8202e" stroke-width="1.0" stroke-linejoin="round" />
<circle cx="570.60" cy="306.80" r="0.9" fill="#d8202e"/>
<circle cx="572.70" cy="303.20" r="0.9" fill="#d8202e"/>
<circle cx="574.50" cy="301.50" r="0.9" fill="#d8202e"/>
<circle cx="576.60" cy="300.40" r="0.9" fill="#d8202e"/>
<circle cx="578.50" cy="300.90" r="0.9" fill="#d8202e"/>
<circle cx="580.40" cy="300.70" r="0.9" fill="#d8202e"/>
<circle cx="582.50" cy="300.30" r="0.9" fill="#d8202e"/>
<circle cx="585.00" cy="299.70" r="0.9" fill="#d8202e"/>
<circle cx="587.00" cy="299.00" r="0.9" fill="#d8202e"/>
<circle cx="588.90" cy="298.10" r="0.9" fill="#d8202e"/>
<circle cx="590.70" cy="296.80" r="0.9" fill="#d8202e"/>
<circle cx="592.50" cy="295.50" r="0.9" fill="#d8202e"/>
<circle cx="594.20" cy="296.50" r="0.9" fill="#d8202e"/>
<circle cx="595.90" cy="297.00" r="0.9" fill="#d8202e"/>
<circle cx="597.80" cy="296.30" r="0.9" fill="#d8202e"/>
<circle cx="599.70" cy="295.80" r="0.9" fill="#d8202e"/>
<circle cx="601.60" cy="296.40" r="0.9" fill="#d8202e"/>
<circle cx="603.60" cy="297.30" r="0.9" fill="#d8202e"/>
<circle cx="605.50" cy="298.80" r="0.9" fill="#d8202e"/>
<circle cx="607.40" cy="300.40" r="0.9" fill="#d8202e"/>
<circle cx="609.00" cy="300.20" r="0.9" fill="#d8202e"/>
<circle cx="610.50" cy="299.70" r="0.9" fill="#d8202e"/>
<circle cx="612.50" cy="301.20" r="0.9" fill="#d8202e"/>
<circle cx="614.40" cy="303.50" r="0.9" fill="#d8202e"/>
<circle cx="623.10" cy="310.30" r="1.0" fill="#d8202e"/>
<circle cx="631.00" cy="321.00" r="1.0" fill="#d8202e"/>
<circle cx="646.90" cy="315.70" r="1.0" fill="#d8202e"/>
<polyline points="570.40,337.50 572.30,337.40 574.30,337.20 577.30,335.90 580.00,336.80 582.70,337.50 585.40,336.50 588.10,335.60 591.20,335.10 594.30,334.70 597.40,335.50 600.50,336.40 602.80,337.10 605.10,337.90 607.50,338.70 609.80,339.50 611.60,339.80 614.90,340.70 618.90,343.50 623.10,346.90 627.00,349.20 631.00,351.30 639.50,355.10 646.90,357.00 662.50,355.40" fill="none" stroke="#222" stroke-width="0.9" stroke-linejoin="round" />
<rect x="569.60" y="336.70" width="1.6" height="1.6" fill="#111"/>
<rect x="571.50" y="336.60" width="1.6" height="1.6" fill="#111"/>
<rect x="573.50" y="336.40" width="1.6" height="1.6" fill="#111"/>
<rect x="576.50" y="335.10" width="1.6" height="1.6" fill="#111"/>
<rect x="579.20" y="336.00" width="1.6" height="1.6" fill="#111"/>
<rect x="581.90" y="336.70" width="1.6" height="1.6" fill="#111"/>
<rect x="584.60" y="335.70" width="1.6" height="1.6" fill="#111"/>
<rect x="587.30" y="334.80" width="1.6" height="1.6" fill="#111"/>
<rect x="590.40" y="334.30" width="1.6" height="1.6" fill="#111"/>
<rect x="593.50" y="333.90" width="1.6" height="1.6" fill="#111"/>
<rect x="596.60" y="334.70" width="1.6" height="1.6" fill="#111"/>
<rect x="599.70" y="335.60" width="1.6" height="1.6" fill="#111"/>
<rect x="602.00" y="336.30" width="1.6" height="1.6" fill="#111"/>
<rect x="604.30" y="337.10" width="1.6" height="1.6" fill="#111"/>
<rect x="606.70" y="337.90" width="1.6" height="1.6" fill="#111"/>
<rect x="609.00" y="338.70" width="1.6" height="1.6" fill="#111"/>
<rect x="610.80" y="339.00" width="1.6" height="1.6" fill="#111"/>
<rect x="614.10" y="339.90" width="1.6" height="1.6" fill="#111"/>
<rect x="618.10" y="342.70" width="1.6" height="1.6" fill="#111"/>
<rect x="622.30" y="346.10" width="1.6" height="1.6" fill="#111"/>
<rect x="626.20" y="348.40" width="1.6" height="1.6" fill="#111"/>
<rect x="630.20" y="350.50" width="1.6" height="1.6" fill="#111"/>
<rect x="638.70" y="354.30" width="1.6" height="1.6" fill="#111"/>
<rect x="646.10" y="356.20" width="1.6" height="1.6" fill="#111"/>
</svg>
</body></html>
